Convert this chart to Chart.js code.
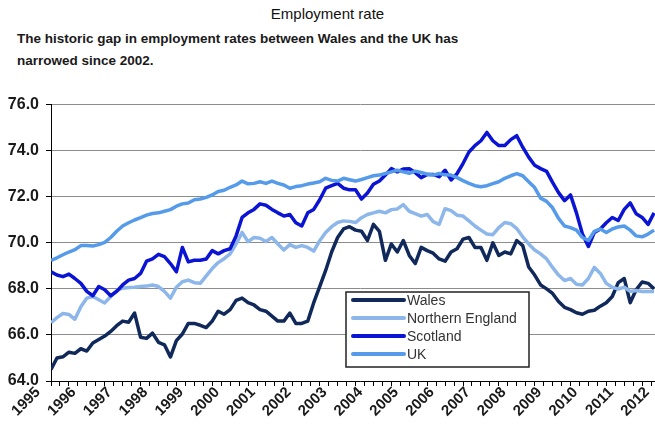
<!DOCTYPE html>
<html>
<head>
<meta charset="utf-8">
<title>Employment rate</title>
<script src="https://cdn.jsdelivr.net/npm/chart.js@4.4.1/dist/chart.umd.min.js"></script>
<style>
  html, body { margin: 0; padding: 0; background: #fff; overflow: hidden; }
  #page { position: relative; width: 655px; height: 434px; overflow: hidden;
          font-family: "Liberation Sans", Arial, sans-serif; color: #1a1a1a; }
  #title { position: absolute; left: 0; top: 5px; width: 655px; text-align: center;
           font-size: 15px; line-height: 18px; color: #111; }
  #subtitle { position: absolute; left: 17px; top: 28px; font-size: 13.5px;
              font-weight: bold; line-height: 22px; }
  /* canvas runs a little past the right edge so the last year is cut off */
  #chart-wrap { position: absolute; left: 0; top: 88px; width: 669px; height: 346px; }
</style>
</head>
<body>
<div id="page">
  <div id="title">Employment rate</div>
  <div id="subtitle">The historic gap in employment rates between Wales and the UK has<br>narrowed since 2002.</div>
  <div id="chart-wrap"><canvas id="chart" width="669" height="346"></canvas></div>
</div>
<script>
// Employment rate (%), one reading every two months from Jan 1995
const START_YEAR = 1995
const MONTHS_PER_STEP = 2

const yearLabels = [
  "1995", "1996", "1997", "1998", "1999", "2000", "2001", "2002", "2003",
  "2004", "2005", "2006", "2007", "2008", "2009", "2010", "2011", "2012"
]

const wales = [
  64.5, 65.0, 65.05, 65.25, 65.2, 65.4,
  65.3, 65.65, 65.8, 65.95, 66.15, 66.4,
  66.6, 66.55, 66.95, 65.9, 65.85, 66.08,
  65.68, 65.57, 65.04, 65.75, 66.04, 66.5,
  66.5, 66.42, 66.32, 66.6, 67.03, 66.9,
  67.1, 67.5, 67.6, 67.4, 67.3, 67.1,
  67.03, 66.82, 66.6, 66.6, 66.95, 66.5,
  66.5, 66.6, 67.4, 68.1, 68.8, 69.6,
  70.23, 70.6, 70.7, 70.55, 70.5, 70.1,
  70.8, 70.5, 69.24, 69.95, 69.6, 70.1,
  69.45, 69.1, 69.8, 69.66, 69.55, 69.3,
  69.2, 69.6, 69.74, 70.16, 70.23, 69.8,
  69.8, 69.24, 70.0, 69.45, 69.6, 69.52,
  70.1, 69.88, 68.95, 68.6, 68.17, 68.0,
  67.8, 67.45, 67.2, 67.1, 66.96, 66.9,
  67.03, 67.07, 67.25, 67.4, 67.67, 68.27,
  68.45, 67.4, 67.96, 68.3, 68.24, 68.0
]

const northernEngland = [
  66.53, 66.75, 66.93, 66.89, 66.68, 67.22,
  67.6, 67.67, 67.53, 67.39, 67.67, 67.93,
  68.03, 68.06, 68.07, 68.1, 68.12, 68.17,
  68.1, 67.89, 67.6, 68.07, 68.31, 68.38,
  68.27, 68.24, 68.56, 68.88, 69.14, 69.31,
  69.52, 69.95, 70.45, 70.05, 70.23, 70.2,
  70.06, 70.23, 69.95, 69.69, 69.92, 69.8,
  69.88, 69.8, 69.64, 70.09, 70.45, 70.7,
  70.88, 70.95, 70.93, 70.88, 71.09, 71.23,
  71.3, 71.37, 71.3, 71.44, 71.47, 71.66,
  71.37, 71.27, 71.16, 71.23, 70.92, 70.8,
  71.48, 71.4, 71.2, 71.16, 70.95, 70.73,
  70.55, 70.38, 70.35, 70.66, 70.88, 70.83,
  70.62, 70.26, 69.95, 69.69, 69.52, 69.3,
  68.93, 68.6, 68.36, 68.45, 68.2, 68.17,
  68.45, 68.93, 68.67, 68.24, 68.07, 67.99,
  68.07, 67.89, 67.93, 67.89, 67.89, 67.89
]

const scotland = [
  68.74, 68.6, 68.53, 68.64, 68.45, 68.24,
  67.89, 67.7, 68.1, 67.96, 67.7, 67.89,
  68.17, 68.38, 68.45, 68.67, 69.2, 69.3,
  69.5, 69.4, 69.1, 68.74, 69.8, 69.17,
  69.24, 69.24, 69.3, 69.66, 69.52, 69.66,
  69.74, 70.3, 71.1, 71.3, 71.45, 71.69,
  71.63, 71.45, 71.3, 71.16, 71.23, 70.87,
  70.73, 71.3, 71.45, 71.87, 72.37, 72.48,
  72.58, 72.37, 72.3, 72.3, 71.9, 72.16,
  72.54, 72.68, 72.94, 73.22, 73.08, 73.2,
  73.22, 73.05, 72.83, 72.97, 72.97, 72.87,
  73.15, 72.73, 73.0, 73.44, 73.94, 74.22,
  74.43, 74.79, 74.43, 74.22, 74.22, 74.48,
  74.65, 74.15, 73.72, 73.37, 73.22, 73.1,
  72.62, 72.18, 71.83, 72.08, 71.3, 70.38,
  69.84, 70.45, 70.6, 70.87, 71.1, 70.97,
  71.45, 71.73, 71.26, 71.1, 70.8, 71.3
]

const uk = [
  69.24, 69.35, 69.48, 69.6, 69.7, 69.88,
  69.88, 69.86, 69.92, 70.02, 70.23, 70.5,
  70.73, 70.87, 70.99, 71.09, 71.2, 71.27,
  71.3, 71.37, 71.44, 71.59, 71.69, 71.73,
  71.87, 71.9, 71.97, 72.08, 72.23, 72.28,
  72.41, 72.51, 72.68, 72.56, 72.58, 72.65,
  72.58, 72.68, 72.58, 72.51, 72.37, 72.44,
  72.48, 72.55, 72.6, 72.65, 72.8, 72.71,
  72.68, 72.8, 72.74, 72.68, 72.75, 72.83,
  72.91, 72.94, 73.01, 73.08, 73.15, 73.08,
  73.02, 73.11, 73.05, 72.98, 72.94, 73.01,
  72.95, 72.94, 72.83, 72.7, 72.58, 72.48,
  72.43, 72.48, 72.57, 72.65, 72.8, 72.91,
  73.0, 72.91, 72.65, 72.4, 71.94, 71.8,
  71.52, 71.06, 70.73, 70.66, 70.55, 70.23,
  70.1, 70.5, 70.6, 70.45, 70.6, 70.69,
  70.73, 70.55, 70.3, 70.26, 70.38, 70.55
]

const seriesNames = ["Wales", "Northern England", "Scotland", "UK"]
const seriesValues = [wales, northernEngland, scotland, uk]
const seriesColors = ["#10295a", "#8db7ea", "#0a14d2", "#559bea"]

const FONT = "'Liberation Sans', Arial, sans-serif"

// turn a reading index into a fractional year for the linear x axis
function toPoints(values) {
  return values.map((v, i) => ({ x: START_YEAR + (i * MONTHS_PER_STEP) / 12, y: v }))
}

// year captions under the axis, slanted at 45 degrees, placed off the x scale
const slantedYears = {
  id: "slantedYears",
  afterDraw(chart, args, opts) {
    const { ctx } = chart
    const xs = chart.scales.x
    ctx.save()
    ctx.font = "bold 15px " + FONT
    ctx.fillStyle = "#1a1a1a"
    ctx.textAlign = "right"
    ctx.textBaseline = "middle"
    yearLabels.forEach((label) => {
      const px = xs.getPixelForValue(Number(label)) + opts.dx
      ctx.save()
      ctx.translate(px, xs.top + opts.dy)
      ctx.rotate(-Math.PI / 4)
      ctx.fillText(label, 0, 0)
      ctx.restore()
    })
    ctx.restore()
  }
}

// boxed legend sitting inside the plot, lower middle
const insetLegend = {
  id: "insetLegend",
  afterDatasetsDraw(chart, args, opts) {
    const { ctx } = chart
    ctx.save()
    ctx.fillStyle = "#fff"
    ctx.fillRect(opts.left, opts.top, opts.width, opts.height)
    ctx.strokeStyle = "#222"
    ctx.lineWidth = 1.5
    ctx.strokeRect(opts.left, opts.top, opts.width, opts.height)

    chart.data.datasets.forEach((ds, i) => {
      const y = opts.top + opts.firstRow + i * opts.rowGap
      ctx.strokeStyle = ds.borderColor
      ctx.lineWidth = 4
      ctx.lineCap = "round"
      ctx.beginPath()
      ctx.moveTo(opts.left + 7, y)
      ctx.lineTo(opts.left + 58, y)
      ctx.stroke()

      ctx.fillStyle = "#333"
      ctx.font = "14px " + FONT
      ctx.textBaseline = "middle"
      ctx.fillText(ds.label, opts.left + 61, y + 1)
    })
    ctx.restore()
  }
}

const datasets = seriesNames.map((name, i) => ({
  label: name,
  data: toPoints(seriesValues[i]),
  borderColor: seriesColors[i],
  backgroundColor: seriesColors[i],
  borderWidth: 3.5,
  borderJoinStyle: "round",
  pointRadius: 0,
  tension: 0,
  // later series sit on top, as in the source workbook
  order: seriesNames.length - i
}))

new Chart(document.getElementById("chart"), {
  type: "line",
  data: { datasets },
  options: {
    responsive: false,
    animation: false,
    devicePixelRatio: 1,
    layout: { padding: { top: 12, right: 0, bottom: 0, left: 0 } },
    plugins: {
      legend: { display: false },
      tooltip: { enabled: false },
      insetLegend: { left: 346, top: 204, width: 183, height: 75, firstRow: 8, rowGap: 18 },
      slantedYears: { dx: -13, dy: 9 }
    },
    scales: {
      x: {
        type: "linear",
        min: 1995,
        max: 2012.25,
        border: { display: true, color: "#000", width: 1 },
        grid: { drawOnChartArea: false, drawTicks: true, tickLength: 5, color: "#000" },
        // quarterly tick marks; the year captions come from the slantedYears plugin
        ticks: {
          stepSize: 0.25,
          autoSkip: false,
          display: false
        },
        afterFit: (scale) => {
          scale.height = 53
          scale.paddingLeft = 0
          scale.paddingRight = 0
        }
      },
      y: {
        min: 64,
        max: 76,
        border: { display: true, color: "#000", width: 1 },
        grid: { color: "#8c8c8c", lineWidth: 1, tickLength: 5, tickColor: "#000" },
        ticks: {
          stepSize: 2,
          padding: 7,
          color: "#1a1a1a",
          font: { family: FONT, size: 16, weight: "bold" },
          callback: (v) => v.toFixed(1)
        },
        afterFit: (scale) => {
          scale.width = 51
        }
      }
    }
  },
  plugins: [insetLegend, slantedYears]
})
</script>
</body>
</html>
